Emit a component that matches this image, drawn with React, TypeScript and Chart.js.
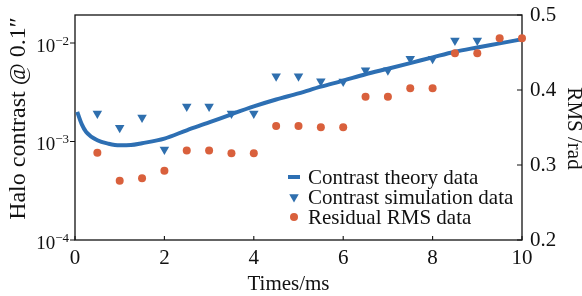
import React, { useEffect, useRef } from 'react';
import { Chart, registerables } from 'chart.js';

Chart.register(...registerables);

// ---- data ----
const theoryTimes = [0.05, 0.15, 0.25, 0.5, 0.75, 1, 1.25, 1.5, 2, 2.5, 3, 3.5, 4, 4.5, 5, 5.5, 6, 6.5, 7, 7.5, 8, 8.5, 9, 9.5, 10];
const theoryContrast = [2.0e-3, 1.5e-3, 1.25e-3, 1.03e-3, 9.5e-4, 9.15e-4, 9.2e-4, 9.6e-4, 1.07e-3, 1.3e-3, 1.56e-3, 1.89e-3, 2.27e-3, 2.67e-3, 3.08e-3, 3.6e-3, 4.15e-3, 4.82e-3, 5.48e-3, 6.25e-3, 7.15e-3, 8.15e-3, 9.0e-3, 9.9e-3, 1.09e-2];

const simTimes = [0.5, 1, 1.5, 2, 2.5, 3, 3.5, 4, 4.5, 5, 5.5, 6, 6.5, 7, 7.5, 8, 8.5, 9];
const simContrast = [1.92e-3, 1.38e-3, 1.75e-3, 8.3e-4, 2.26e-3, 2.26e-3, 1.92e-3, 1.92e-3, 4.6e-3, 4.6e-3, 4.08e-3, 4.06e-3, 5.29e-3, 5.29e-3, 6.93e-3, 6.93e-3, 1.06e-2, 1.06e-2];

const rmsTimes = [0.5, 1, 1.5, 2, 2.5, 3, 3.5, 4, 4.5, 5, 5.5, 6, 6.5, 7, 7.5, 8, 8.5, 9, 9.5, 10];
const rmsValues = [0.3164, 0.2789, 0.2823, 0.2924, 0.3193, 0.3193, 0.3156, 0.3156, 0.352, 0.352, 0.3503, 0.3503, 0.3911, 0.3911, 0.4023, 0.4023, 0.4489, 0.4489, 0.4689, 0.4689];

const seriesNames = ['Contrast theory data', 'Contrast simulation data', 'Residual RMS data'];
const xTicks = [0, 2, 4, 6, 8, 10];
const leftTicks = [1e-4, 1e-3, 1e-2];
const leftTickExponents = ['\u22124', '\u22123', '\u22122'];
const rightTicks = [0.2, 0.3, 0.4, 0.5];
const xTitle = 'Times/ms';
const leftTitle = 'Halo contrast @ 0.1\u2033';
const rightTitle = 'RMS /rad';

const BLUE = '#2d6fb3';
const TRI_BLUE = '#2f6fae';
const ORANGE = '#d9603c';
const INK = '#111111';
const SERIF = '"Liberation Serif", "Times New Roman", serif';

function drawDownTriangle(ctx: CanvasRenderingContext2D, x: number, y: number, r: number) {
  ctx.beginPath();
  ctx.moveTo(x, y + r);
  ctx.lineTo(x - r * Math.sin(Math.PI / 3), y - r / 2);
  ctx.lineTo(x + r * Math.sin(Math.PI / 3), y - r / 2);
  ctx.closePath();
  ctx.fill();
}

const framePlugin = {
  id: 'frameAndText',
  beforeDatasetsDraw(chart: any) {
    const { ctx, chartArea } = chart;
    const { left, right, top, bottom } = chartArea;
    const xs = chart.scales.x;
    const yl = chart.scales.y;
    const yr = chart.scales.y1;
    ctx.save();
    ctx.strokeStyle = INK;
    ctx.lineWidth = 1.3;
    ctx.strokeRect(left, top, right - left, bottom - top);
    ctx.lineWidth = 1.1;
    ctx.beginPath();
    xTicks.forEach((v) => {
      const px = xs.getPixelForValue(v);
      ctx.moveTo(px, bottom);
      ctx.lineTo(px, bottom - 4);
    });
    leftTicks.forEach((v) => {
      const py = yl.getPixelForValue(v);
      ctx.moveTo(left, py);
      ctx.lineTo(left - 5, py);
    });
    rightTicks.forEach((v) => {
      const py = yr.getPixelForValue(v);
      ctx.moveTo(right, py);
      ctx.lineTo(right - 5, py);
    });
    ctx.stroke();

    // left tick labels with superscripts
    ctx.fillStyle = INK;
    ctx.textBaseline = 'alphabetic';
    leftTicks.forEach((v, i) => {
      const py = yl.getPixelForValue(v);
      ctx.font = `13px ${SERIF}`;
      ctx.textAlign = 'right';
      const supW = ctx.measureText(leftTickExponents[i]).width;
      ctx.fillText(leftTickExponents[i], left - 6, py + 2);
      ctx.font = `19px ${SERIF}`;
      ctx.fillText('10', left - 6 - supW, py + 9);
    });

    // axis titles
    ctx.font = `21px ${SERIF}`;
    ctx.textAlign = 'center';
    ctx.textBaseline = 'middle';
    ctx.fillText(xTitle, (left + right) / 2 - 10, 284);

    ctx.save();
    ctx.translate(19, (top + bottom) / 2 - 9);
    ctx.rotate(-Math.PI / 2);
    ctx.font = `24px ${SERIF}`;
    ctx.fillText(leftTitle, 0, 0);
    ctx.restore();

    ctx.save();
    ctx.translate(574, (top + bottom) / 2 + 1);
    ctx.rotate(Math.PI / 2);
    ctx.font = `21px ${SERIF}`;
    ctx.fillText(rightTitle, 0, 0);
    ctx.restore();
    ctx.restore();
  },
  afterDatasetsDraw(chart: any) {
    const { ctx, chartArea } = chart;
    const { right, bottom } = chartArea;
    const tx = right - 214;
    const mx = tx - 14;
    const rows = [bottom - 62, bottom - 42, bottom - 22];
    ctx.save();
    ctx.fillStyle = INK;
    ctx.font = `21px ${SERIF}`;
    ctx.textAlign = 'left';
    ctx.textBaseline = 'middle';
    ctx.strokeStyle = BLUE;
    ctx.lineWidth = 4;
    ctx.beginPath();
    ctx.moveTo(mx - 6, rows[0] - 1);
    ctx.lineTo(mx + 6, rows[0] - 1);
    ctx.stroke();
    ctx.fillStyle = TRI_BLUE;
    drawDownTriangle(ctx, mx, rows[1] - 1, 5.5);
    ctx.fillStyle = ORANGE;
    ctx.beginPath();
    ctx.arc(mx, rows[2] - 1, 4, 0, Math.PI * 2);
    ctx.fill();
    ctx.fillStyle = INK;
    seriesNames.forEach((name, i) => ctx.fillText(name, tx, rows[i]));
    ctx.restore();
  },
};

function zeroPad(s: any) {
  s.paddingTop = 0;
  s.paddingBottom = 0;
  s.paddingLeft = 0;
  s.paddingRight = 0;
}

export default function App() {
  const canvasRef = useRef<HTMLCanvasElement | null>(null);

  useEffect(() => {
    const canvas = canvasRef.current;
    if (!canvas) return;
    const chart = new Chart(canvas, {
      type: 'line',
      data: {
        datasets: [
          {
            label: seriesNames[0],
            data: theoryTimes.map((t, i) => ({ x: t, y: theoryContrast[i] })),
            yAxisID: 'y',
            borderColor: BLUE,
            borderWidth: 4,
            pointRadius: 0,
            cubicInterpolationMode: 'monotone',
            fill: false,
            order: 1,
          },
          {
            label: seriesNames[1],
            data: simTimes.map((t, i) => ({ x: t, y: simContrast[i] })),
            yAxisID: 'y',
            showLine: false,
            pointStyle: 'triangle',
            pointRotation: 180,
            pointRadius: 5.5,
            pointBackgroundColor: TRI_BLUE,
            pointBorderColor: TRI_BLUE,
            pointBorderWidth: 0,
            clip: false,
            order: 2,
          },
          {
            label: seriesNames[2],
            data: rmsTimes.map((t, i) => ({ x: t, y: rmsValues[i] })),
            yAxisID: 'y1',
            showLine: false,
            pointStyle: 'circle',
            pointRadius: 4,
            pointBackgroundColor: ORANGE,
            pointBorderColor: ORANGE,
            pointBorderWidth: 0,
            clip: false,
            order: 0,
          },
        ],
      },
      options: {
        animation: false,
        responsive: false,
        maintainAspectRatio: false,
        layout: { padding: { top: 15, left: 0, right: 0, bottom: 0 } },
        plugins: { legend: { display: false }, tooltip: { enabled: false } },
        scales: {
          x: {
            type: 'linear',
            position: 'bottom',
            min: 0,
            max: 10,
            afterBuildTicks: (s: any) => { s.ticks = xTicks.map((v) => ({ value: v })); },
            ticks: { font: { family: SERIF, size: 21 }, color: INK, padding: 6, maxRotation: 0 },
            grid: { display: false, drawTicks: false },
            border: { display: false },
            afterFit: (s: any) => { s.height = 56; zeroPad(s); },
          },
          y: {
            type: 'logarithmic',
            position: 'left',
            min: 1e-4,
            max: Math.pow(10, -1.716),
            afterBuildTicks: (s: any) => { s.ticks = leftTicks.map((v) => ({ value: v })); },
            ticks: { display: false },
            grid: { display: false, drawTicks: false },
            border: { display: false },
            afterFit: (s: any) => { s.width = 75; zeroPad(s); },
          },
          y1: {
            type: 'linear',
            position: 'right',
            min: 0.2,
            max: 0.5,
            afterBuildTicks: (s: any) => { s.ticks = rightTicks.map((v) => ({ value: v })); },
            ticks: {
              font: { family: SERIF, size: 21 },
              color: INK,
              padding: 8,
              callback: (v: any) => Number(v).toFixed(1),
            },
            grid: { display: false, drawTicks: false },
            border: { display: false },
            afterFit: (s: any) => { s.width = 60; zeroPad(s); },
          },
        },
      },
      plugins: [framePlugin],
    } as any);
    return () => chart.destroy();
  }, []);

  return (
    <div style={{ position: 'fixed', left: 0, top: 0, width: 582, height: 296, background: '#fff' }}>
      <canvas ref={canvasRef} width={582} height={296} style={{ display: 'block' }} />
    </div>
  );
}
